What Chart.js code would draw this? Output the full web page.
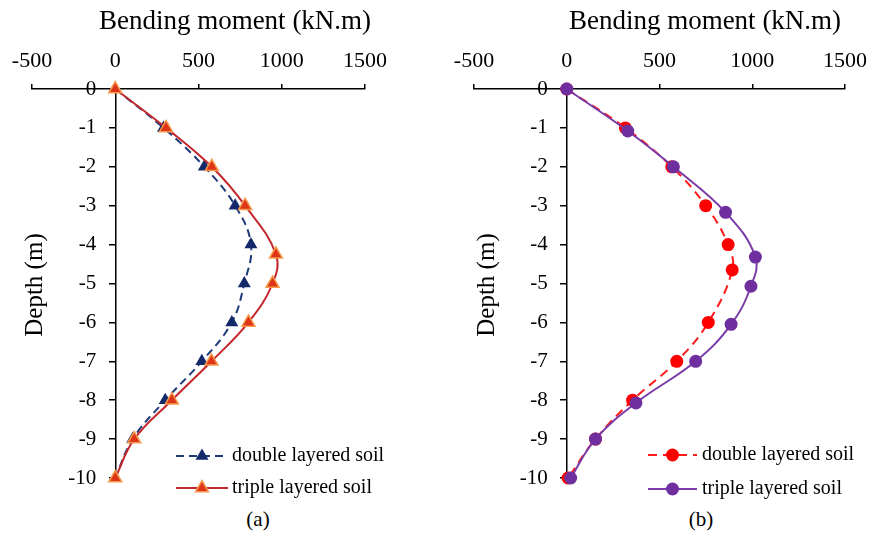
<!DOCTYPE html>
<html>
<head>
<meta charset="utf-8">
<script src="https://cdn.jsdelivr.net/npm/chart.js@4/dist/chart.umd.min.js"></script>
<style>
  html, body { margin: 0; padding: 0; background: #fff; }
  #wrap { position: relative; width: 877px; height: 536px; font-family: 'Liberation Serif', 'Times New Roman', serif; }
  canvas { position: absolute; top: 0; }
  #chartA { left: 0; }
  #chartB { left: 438px; }
  .cap { position: absolute; top: 507px; font-size: 21px; line-height: 24px; color: #000; transform: translateX(-50%); }
</style>
</head>
<body>
<div id="wrap">
  <canvas id="chartA" width="438" height="500"></canvas>
  <canvas id="chartB" width="439" height="500"></canvas>
  <div class="cap" style="left:258px">(a)</div>
  <div class="cap" style="left:701px">(b)</div>
</div>
<script>
// Axis ticks
const momentTicks = [-500, 0, 500, 1000, 1500];
const depthTicks = [0, -1, -2, -3, -4, -5, -6, -7, -8, -9, -10];

// Labels
const xTitle = 'Bending moment (kN.m)';
const yTitle = 'Depth (m)';
const seriesNames = ['double layered soil', 'triple layered soil'];

// Panel (a)
const depthA_double  = [0, -1, -2, -3, -4, -5, -6, -7, -8, -9, -10];
const momentA_double = [0, 290, 535, 720, 815, 775, 700, 520, 300, 105, 0];
const depthA_triple  = [0, -1, -2, -3, -4.25, -5, -6, -7, -8, -9, -10];
const momentA_triple = [0, 305, 580, 780, 965, 945, 800, 578, 340, 114, 0];

// Panel (b)
const depthB_double  = [0, -1, -2, -3, -4, -4.65, -6, -7, -8, -9, -10];
const momentB_double = [0, 316, 566, 749, 870, 892, 763, 593, 355, 155, 7];
const depthB_triple  = [0, -1.08, -2, -3.17, -4.32, -5.07, -6.05, -7, -8.07, -9, -10];
const momentB_triple = [0, 329, 575, 856, 1017, 993, 886, 695, 373, 155, 21];

const FONT = "'Liberation Serif', 'Times New Roman', serif";
const Y_LABEL_GAP = 19;

function pts(xs, ys) { return xs.map((x, i) => ({ x: x, y: ys[i] })); }

function drawMarker(ctx, style, x, y, r, fill, stroke, bw) {
  ctx.save();
  ctx.setLineDash([]);
  ctx.beginPath();
  if (style === 'triangle') {
    let rad = 0;
    ctx.moveTo(x + Math.sin(rad) * r, y - Math.cos(rad) * r);
    rad += 2 * Math.PI / 3;
    ctx.lineTo(x + Math.sin(rad) * r, y - Math.cos(rad) * r);
    rad += 2 * Math.PI / 3;
    ctx.lineTo(x + Math.sin(rad) * r, y - Math.cos(rad) * r);
    ctx.closePath();
  } else {
    ctx.arc(x, y, r, 0, Math.PI * 2);
  }
  ctx.fillStyle = fill;
  ctx.fill();
  if (bw > 0) { ctx.lineWidth = bw; ctx.strokeStyle = stroke; ctx.stroke(); }
  ctx.restore();
}

// Depth labels sit left of the axis line drawn at x = 0, clear of the tick marks
const depthLabelPlugin = {
  id: 'depthLabels',
  beforeDraw(chart) {
    const s = chart.scales.y;
    s.getLabelItems().forEach(it => {
      if (!it._moved) { it.options.translation[0] -= Y_LABEL_GAP; it._moved = true; }
    });
  }
};

// Axis titles and line+marker legend, drawn on top of the plot
const decorPlugin = {
  id: 'decor',
  afterDraw(chart, args, opts) {
    const ctx = chart.ctx;
    ctx.save();
    ctx.fillStyle = '#000';
    ctx.font = '27px ' + FONT;
    ctx.textAlign = 'center';
    ctx.textBaseline = 'middle';
    ctx.fillText(xTitle, opts.xTitleX, 22);
    ctx.font = '25px ' + FONT;
    ctx.translate(opts.titleX, opts.titleY);
    ctx.rotate(-Math.PI / 2);
    ctx.fillText(yTitle, 0, 0);
    ctx.restore();

    const lg = opts.legend;
    chart.data.datasets.forEach((ds, i) => {
      const y = lg.rows[i];
      ctx.save();
      ctx.strokeStyle = ds.borderColor;
      ctx.lineWidth = ds.borderWidth;
      ctx.setLineDash(ds.borderDash || []);
      ctx.beginPath();
      ctx.moveTo(lg.x0, y);
      ctx.lineTo(lg.x1, y);
      ctx.stroke();
      ctx.restore();
      drawMarker(ctx, ds.pointStyle, (lg.x0 + lg.x1) / 2, y, ds.pointRadius,
        ds.pointBackgroundColor, ds.pointBorderColor, ds.pointBorderWidth);
      ctx.save();
      ctx.fillStyle = '#000';
      ctx.font = '20px ' + FONT;
      ctx.textAlign = 'left';
      ctx.textBaseline = 'middle';
      ctx.fillText(ds.label, lg.tx, y);
      ctx.restore();
    });
  }
};

function makeChart(id, datasets, padding, decor) {
  return new Chart(document.getElementById(id), {
    type: 'line',
    data: { datasets: datasets },
    plugins: [depthLabelPlugin, decorPlugin],
    options: {
      responsive: false,
      animation: false,
      devicePixelRatio: 1,
      layout: { padding: padding },
      plugins: { legend: { display: false }, tooltip: { enabled: false }, decor: decor },
      scales: {
        x: {
          type: 'linear',
          position: 'top',
          min: -500, max: 1500,
          afterBuildTicks: s => { s.ticks = momentTicks.map(v => ({ value: v })); },
          grid: { display: true, drawOnChartArea: false, drawTicks: true, tickLength: 5, color: '#000', lineWidth: 1.5 },
          border: { display: true, color: '#000', width: 1.5 },
          ticks: { color: '#000', font: { family: FONT, size: 22 }, padding: 10, callback: v => String(v), maxRotation: 0 },
          title: { display: false }
        },
        y: {
          type: 'linear',
          position: { x: 0 },
          min: -10, max: 0,
          afterBuildTicks: s => { s.ticks = depthTicks.map(v => ({ value: v })); },
          grid: { display: true, drawOnChartArea: false, drawTicks: true, tickLength: 6, color: '#000', lineWidth: 1.5 },
          border: { display: true, color: '#000', width: 1.5 },
          ticks: { color: '#000', font: { family: FONT, size: 21 }, padding: 0, callback: v => String(v) }
        }
      }
    }
  });
}

const common = { showLine: true, fill: false, tension: 0.4, borderWidth: 2, clip: false, pointHoverRadius: 0 };

makeChart('chartA', [
  Object.assign({}, common, {
    label: seriesNames[1], data: pts(momentA_triple, depthA_triple), order: 0,
    borderColor: '#c3262b', pointStyle: 'triangle', pointRadius: 7.5,
    pointBackgroundColor: '#de3418', pointBorderColor: '#f59a4c', pointBorderWidth: 1.5
  }),
  Object.assign({}, common, {
    label: seriesNames[0], data: pts(momentA_double, depthA_double), order: 1,
    borderColor: '#1f3a78', borderDash: [8, 5], pointStyle: 'triangle', pointRadius: 7.5,
    pointBackgroundColor: '#13296a', pointBorderColor: '#13296a', pointBorderWidth: 0
  })
], { left: 32, right: 73, top: 37.6, bottom: 22 },
{ xTitleX: 235, titleX: 35, titleY: 285, legend: { x0: 176, x1: 228, tx: 232, rows: [488, 456] } });

makeChart('chartB', [
  Object.assign({}, common, {
    label: seriesNames[1], data: pts(momentB_triple, depthB_triple), order: 0,
    borderColor: '#7a3aa8', pointStyle: 'circle', pointRadius: 6.5,
    pointBackgroundColor: '#6f2f9f', pointBorderColor: '#6f2f9f', pointBorderWidth: 0
  }),
  Object.assign({}, common, {
    label: seriesNames[0], data: pts(momentB_double, depthB_double), order: 1,
    borderColor: '#ff1a1a', borderDash: [9, 6], pointStyle: 'circle', pointRadius: 6.5,
    pointBackgroundColor: '#ff0000', pointBorderColor: '#ff0000', pointBorderWidth: 0
  })
], { left: 36, right: 31, top: 37.6, bottom: 22 },
{ xTitleX: 267, titleX: 49, titleY: 285, legend: { x0: 210, x1: 259, tx: 264, rows: [489, 455] } });
</script>
</body>
</html>
